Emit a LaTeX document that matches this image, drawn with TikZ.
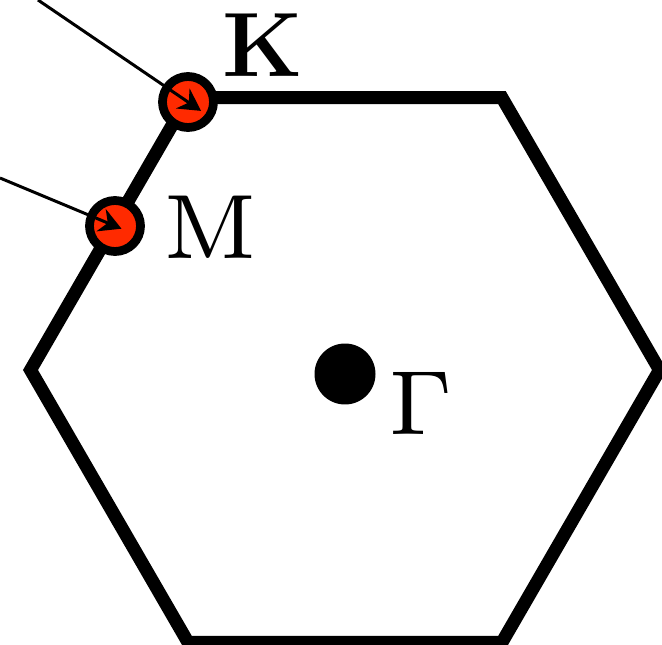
\documentclass[tikz,border=0pt]{standalone}
\usepackage{tikz}
\usetikzlibrary{arrows.meta,calc,positioning}
\definecolor{PtRed}{HTML}{FF2A00}
\definecolor{InkDark}{HTML}{000000}
\font\ptfont=cmr7 at 52pt
\tikzset{
  bzedge/.style={line width=7.4pt, draw=InkDark},
  hsp/.style={circle, draw=InkDark, line width=5pt, fill=PtRed,
             minimum size=1.02cm, inner sep=0pt},
  gpt/.style={circle, fill=InkDark, minimum size=1.22cm, inner sep=0pt},
  ptlabel/.style={font=\ptfont, inner sep=0pt},
  pointer/.style={line width=1.7pt, draw=InkDark, -{Stealth[length=0.44cm, width=0.48cm]}},
}

\begin{document}
\begin{tikzpicture}[x=0.02cm, y=-0.02cm]
\useasboundingbox (0,0) rectangle (662,645);
% ===================== Brillouin zone boundary
\coordinate (v1) at (30.5,370);
\coordinate (v2) at (188,97.7);
\coordinate (v3) at (502,97.7);
\coordinate (v4) at (659.5,370);
\coordinate (v5) at (502,642.3);
\coordinate (v6) at (188,642.3);
\draw[bzedge] (v1) -- (v2) -- (v3) -- (v4) -- (v5) -- (v6) -- cycle;
% ===================== high-symmetry points
\node[hsp] (K) at (188,102) {};
\node[hsp] (M) at (115,226) {};
\node[gpt] (G) at (345,374) {};
\node[ptlabel, font=\fontsize{52}{60}\selectfont\bfseries] (Klab) at (263,45) {K};
\node[ptlabel] (Mlab) at (210,227) {M};
\node[ptlabel] (Glab) at (421,403) {\char0};
% pointers coming in from outside
\coordinate (kfrom) at (38,0);
\coordinate (mfrom) at (0,178);
\draw[pointer, shorten >=-9pt] (kfrom) -- (K.center);
\draw[pointer, shorten >=-4pt] (mfrom) -- (M.center);
\end{tikzpicture}
\end{document}
